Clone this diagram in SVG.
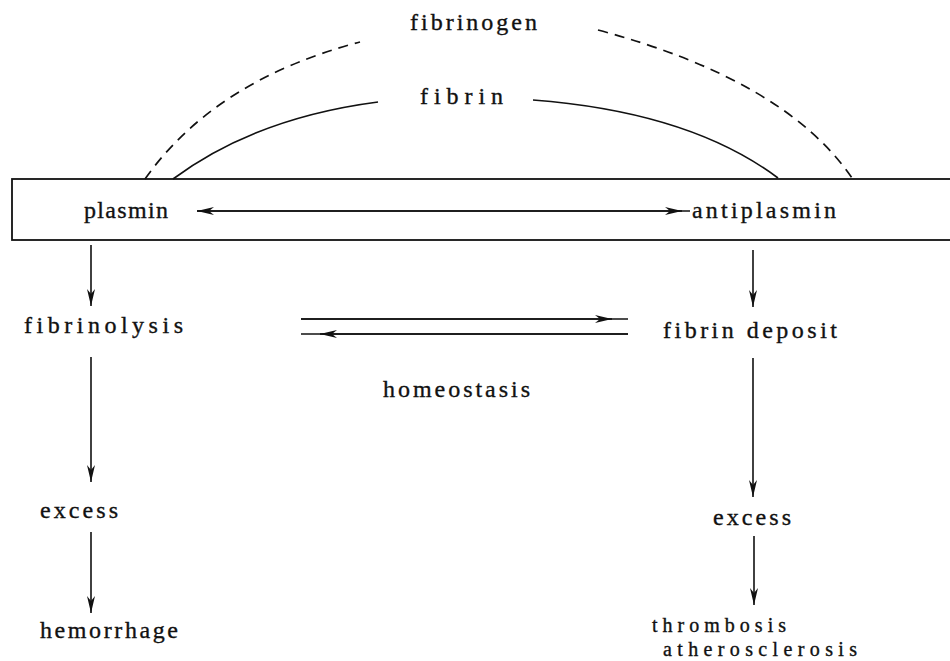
<svg xmlns="http://www.w3.org/2000/svg" width="950" height="661" viewBox="0 0 950 661">
<style>
.t{font-size:24px;fill:#111;stroke:#111;stroke-width:0.35}
.sm{font-size:20px}
.ln{stroke:#111;stroke-width:1.6;fill:none}
.ds{stroke-dasharray:10,7;stroke-width:1.7}
</style>
<defs>
<marker id="ah" markerWidth="18" markerHeight="10" refX="17" refY="5" orient="auto" markerUnits="userSpaceOnUse">
<path d="M0,1 L17,5 L0,9 L5,5 z" fill="#111"/>
</marker>
<marker id="ahs" markerWidth="18" markerHeight="10" refX="1" refY="5" orient="auto" markerUnits="userSpaceOnUse">
<path d="M18,1 L1,5 L18,9 L13,5 z" fill="#111"/>
</marker>
</defs>
<rect id="box" x="12" y="179" width="950" height="61" fill="none" stroke="#111" stroke-width="1.8"/>
<g id="connectors">
<path class="ln ds" d="M145,179 Q215,80 360,42"/>
<path class="ln ds" d="M598,30 Q785,80 852,178"/>
<path class="ln" d="M173,179 Q255,118 378,102"/>
<path class="ln" d="M533,100 Q690,112 778,178"/>
<path class="ln" d="M197,211 L690,211" marker-start="url(#ahs)"/>
<path class="ln" d="M197,211 L682,211" marker-end="url(#ah)"/>
<path class="ln" d="M91,245 L91,306" marker-end="url(#ah)"/>
<path class="ln" d="M91,357 L91,482" marker-end="url(#ah)"/>
<path class="ln" d="M91,532 L91,613" marker-end="url(#ah)"/>
<path class="ln" d="M753,250 L753,307" marker-end="url(#ah)"/>
<path class="ln" d="M753,358 L753,497" marker-end="url(#ah)"/>
<path class="ln" d="M754,536 L754,605" marker-end="url(#ah)"/>
<path class="ln" d="M301,319 L628,319"/>
<path class="ln" d="M301,319 L612,319" marker-end="url(#ah)"/>
<path class="ln" d="M301,334 L628,334"/>
<path class="ln" d="M628,334 L320,334" marker-end="url(#ah)"/>
</g>
<g font-family="'Liberation Serif', 'DejaVu Serif', 'Times New Roman', serif">
<g id="fibrinogen"><text class="t" x="410" y="30" textLength="127" lengthAdjust="spacing">fibrinogen</text></g>
<g id="fibrin"><text class="t" x="420" y="104" textLength="83" lengthAdjust="spacing">fibrin</text></g>
<g id="plasmin"><text class="t" x="84" y="218" textLength="84" lengthAdjust="spacing">plasmin</text></g>
<g id="antiplasmin"><text class="t" x="692" y="218" textLength="144" lengthAdjust="spacing">antiplasmin</text></g>
<g id="fibrinolysis"><text class="t" x="24" y="333" textLength="159" lengthAdjust="spacing">fibrinolysis</text></g>
<g id="fibrin-deposit"><text class="t" x="663" y="338" textLength="174" lengthAdjust="spacing">fibrin deposit</text></g>
<g id="homeostasis"><text class="t" x="383" y="397" textLength="147" lengthAdjust="spacing">homeostasis</text></g>
<g id="excess-left"><text class="t" x="40" y="518" textLength="78" lengthAdjust="spacing">excess</text></g>
<g id="excess-right"><text class="t" x="713" y="525" textLength="78" lengthAdjust="spacing">excess</text></g>
<g id="hemorrhage"><text class="t" x="40" y="638" textLength="138" lengthAdjust="spacing">hemorrhage</text></g>
<g id="thrombosis"><text class="t sm" x="652" y="632" textLength="134" lengthAdjust="spacing">thrombosis</text><text class="t sm" x="663" y="656" textLength="194" lengthAdjust="spacing">atherosclerosis</text></g>
</g>
</svg>
